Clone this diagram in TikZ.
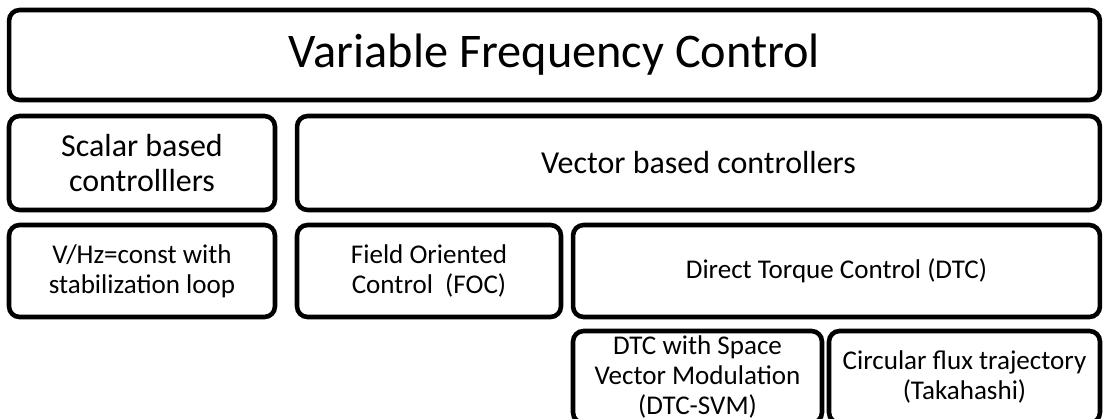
\documentclass[tikz,border=0pt]{standalone}
\usepackage{fontspec}
\setmainfont{Carlito}
\usepackage{tikz}
\tikzset{
	ctrlbox/.style={draw=black, line width=2.6pt, rounded corners=6pt,
			align=center, inner sep=0pt, fill=white},
	bigtxt/.style={font=\fontsize{27.5pt}{33pt}\selectfont},
	midtxt/.style={font=\fontsize{18.2pt}{19.9pt}\selectfont},
	smalltxt/.style={font=\fontsize{15.4pt}{17.3pt}\selectfont}
}

\begin{document}
\begin{tikzpicture}[x=0.02cm, y=-0.02cm]
			% frame of the picture, the right and bottom boxes run past it
			\clip (0,0) rectangle (1103,419);
			\fill[white] (0,0) rectangle (1103,419);

			% Top level
			\node[ctrlbox, bigtxt, minimum width=21.82cm, minimum height=1.8cm] (vfc) at (554.5,55) {Variable Frequency Control};

			% Second level
			\node[ctrlbox, midtxt, minimum width=5.32cm, minimum height=1.88cm] (scalar) at (142,163) {Scalar based\\controlllers};
			\node[ctrlbox, midtxt, minimum width=16.06cm, minimum height=1.88cm] (vector) at (698.5,163) {Vector based controllers};

			% Third level
			\node[ctrlbox, smalltxt, minimum width=5.32cm, minimum height=1.84cm] (vhz) at (142,271) {V/Hz=const with\\stabilization loop};
			\node[ctrlbox, smalltxt, minimum width=5.28cm, minimum height=1.84cm] (foc) at (429,271) {Field Oriented\\Control~~(FOC)};
			\node[ctrlbox, smalltxt, minimum width=10.54cm, minimum height=1.84cm] (dtc) at (836.5,271) {Direct Torque Control (DTC)};

			% Fourth level (DTC variants)
			\node[ctrlbox, smalltxt, minimum width=4.98cm, minimum height=1.84cm] (svm) at (697.5,377) {DTC with Space\\Vector Modulation\\(DTC-SVM)};
			\node[ctrlbox, smalltxt, minimum width=5.42cm, minimum height=1.84cm] (circ) at (964.5,377) {Circular flux trajectory\\(Takahashi)};
		\end{tikzpicture}
\end{document}
